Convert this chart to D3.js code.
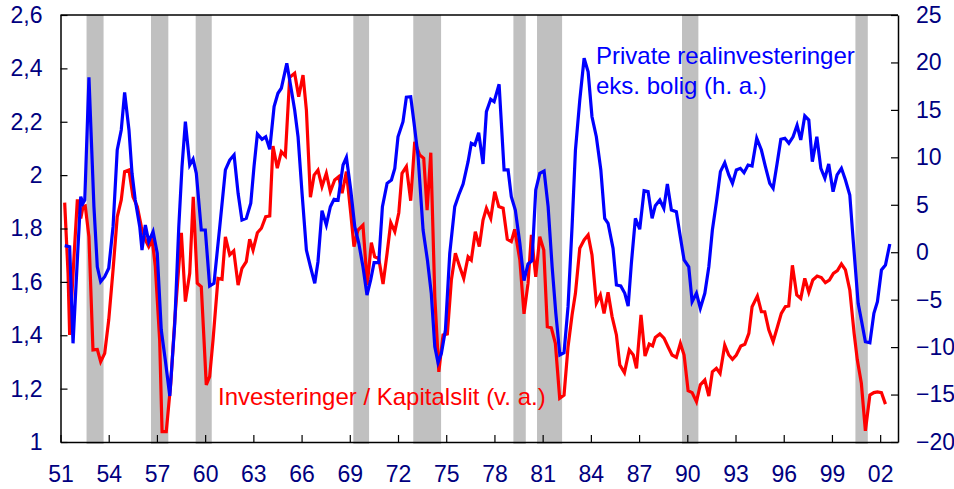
<!DOCTYPE html>
<html>
<head>
<meta charset="utf-8">
<script src="https://cdn.jsdelivr.net/npm/d3@7"></script>
<style>
  body { margin: 0; background: #fff; }
  text { font-family: "Liberation Sans", Arial, sans-serif; }
</style>
</head>
<body>
<div id="chart"></div>
<script>
// grey bands (recessions), in chart years
var bandStart = [1952.62, 1956.63, 1959.41, 1969.22, 1972.95, 1979.18, 1980.65, 1989.67, 2000.46];
var bandEnd   = [1953.68, 1957.71, 1960.41, 1970.20, 1974.68, 1979.95, 1982.21, 1990.69, 2001.23];

// Investeringer / Kapitalslit (left axis)
var redYears = [1951.26,1951.47,1951.57,1951.84,1952.05,1952.26,1952.40,1952.54,1952.77,1953.02,1953.29,1953.50,1953.75,1954.00,1954.27,1954.53,1954.78,1954.99,1955.26,1955.51,1955.78,1956.03,1956.28,1956.49,1956.71,1956.90,1957.17,1957.32,1957.58,1957.86,1958.11,1958.36,1958.52,1958.77,1959.04,1959.26,1959.51,1959.76,1959.93,1960.07,1960.28,1960.49,1960.80,1961.05,1961.26,1961.53,1961.78,1962.05,1962.29,1962.56,1962.77,1962.98,1963.25,1963.50,1963.77,1964.02,1964.22,1964.49,1964.74,1964.99,1965.26,1965.57,1965.82,1966.09,1966.30,1966.55,1966.78,1967.02,1967.27,1967.54,1967.79,1968.06,1968.31,1968.52,1968.79,1969.06,1969.26,1969.51,1969.82,1970.09,1970.34,1970.55,1970.80,1971.07,1971.32,1971.55,1971.80,1972.05,1972.25,1972.52,1972.79,1973.04,1973.35,1973.60,1973.81,1974.04,1974.29,1974.54,1974.80,1975.07,1975.32,1975.57,1975.84,1976.09,1976.36,1976.56,1976.81,1977.06,1977.29,1977.50,1977.77,1978.02,1978.27,1978.54,1978.80,1979.05,1979.26,1979.58,1979.84,1980.09,1980.30,1980.57,1980.82,1981.07,1981.29,1981.54,1981.79,1982.06,1982.33,1982.58,1982.83,1983.04,1983.31,1983.58,1983.83,1984.07,1984.34,1984.59,1984.82,1985.07,1985.32,1985.59,1985.80,1986.09,1986.39,1986.64,1986.84,1987.12,1987.37,1987.63,1987.84,1988.01,1988.29,1988.55,1988.80,1989.05,1989.32,1989.57,1989.80,1990.05,1990.30,1990.57,1990.81,1991.09,1991.34,1991.56,1991.81,1992.04,1992.33,1992.58,1992.81,1993.05,1993.33,1993.58,1993.83,1994.03,1994.36,1994.61,1994.82,1995.07,1995.34,1995.61,1995.85,1996.10,1996.31,1996.54,1996.81,1997.06,1997.31,1997.56,1997.81,1998.08,1998.34,1998.59,1998.84,1999.09,1999.34,1999.59,1999.84,2000.11,2000.38,2000.58,2000.83,2001.08,2001.36,2001.61,2001.83,2002.08,2002.33];
var redValues = [1.897,1.632,1.401,1.694,1.909,1.838,1.882,1.885,1.769,1.345,1.347,1.301,1.332,1.457,1.645,1.844,1.907,2.013,2.019,1.919,1.882,1.807,1.757,1.732,1.757,1.657,1.382,1.039,1.039,1.220,1.457,1.657,1.784,1.526,1.632,1.919,1.595,1.582,1.382,1.214,1.245,1.382,1.613,1.610,1.769,1.701,1.716,1.588,1.651,1.676,1.760,1.719,1.784,1.801,1.844,1.847,2.109,2.026,2.088,2.072,2.367,2.382,2.294,2.375,2.244,1.917,2.000,2.019,1.957,2.007,1.938,1.982,1.994,1.932,2.013,1.857,1.732,1.794,1.813,1.588,1.747,1.694,1.688,1.592,1.707,1.822,1.788,1.859,2.007,2.032,1.904,2.125,2.075,2.063,1.869,2.084,1.544,1.263,1.401,1.405,1.607,1.707,1.657,1.613,1.694,1.682,1.788,1.732,1.832,1.876,1.838,1.938,1.882,1.876,1.760,1.751,1.797,1.682,1.480,1.595,1.776,1.619,1.769,1.719,1.432,1.428,1.370,1.164,1.176,1.357,1.476,1.557,1.726,1.757,1.776,1.701,1.520,1.551,1.482,1.561,1.470,1.401,1.289,1.260,1.345,1.326,1.276,1.476,1.322,1.367,1.360,1.392,1.405,1.389,1.357,1.326,1.317,1.370,1.326,1.192,1.185,1.151,1.214,1.232,1.172,1.263,1.276,1.257,1.363,1.326,1.310,1.326,1.360,1.366,1.407,1.507,1.547,1.488,1.488,1.420,1.376,1.432,1.482,1.507,1.510,1.662,1.551,1.538,1.613,1.561,1.607,1.622,1.616,1.597,1.607,1.632,1.642,1.667,1.645,1.570,1.407,1.307,1.220,1.042,1.176,1.185,1.188,1.185,1.142];

// Private realinvesteringer eks. bolig (right axis)
var blueYears = [1951.26,1951.57,1951.78,1952.09,1952.26,1952.40,1952.51,1952.77,1952.92,1953.08,1953.29,1953.50,1953.75,1954.00,1954.27,1954.53,1954.78,1954.99,1955.26,1955.45,1955.65,1955.93,1956.07,1956.28,1956.49,1956.76,1957.02,1957.27,1957.52,1957.80,1958.11,1958.36,1958.56,1958.77,1959.04,1959.25,1959.45,1959.76,1960.01,1960.28,1960.55,1960.91,1961.26,1961.53,1961.80,1962.05,1962.29,1962.56,1962.84,1963.04,1963.25,1963.54,1963.77,1964.02,1964.29,1964.53,1964.74,1965.08,1965.33,1965.57,1965.78,1966.03,1966.30,1966.55,1966.82,1967.02,1967.27,1967.54,1967.79,1968.02,1968.27,1968.58,1968.79,1969.06,1969.31,1969.56,1969.82,1970.07,1970.30,1970.51,1970.80,1971.03,1971.32,1971.59,1971.80,1972.00,1972.31,1972.52,1972.79,1973.00,1973.25,1973.56,1973.83,1974.07,1974.29,1974.49,1974.70,1974.95,1975.22,1975.53,1975.78,1976.05,1976.36,1976.56,1976.78,1977.02,1977.29,1977.50,1977.77,1977.98,1978.29,1978.60,1978.85,1979.05,1979.30,1979.58,1979.84,1980.09,1980.34,1980.57,1980.82,1981.09,1981.34,1981.59,1981.82,1982.07,1982.33,1982.58,1982.83,1983.04,1983.31,1983.58,1983.83,1984.07,1984.34,1984.62,1984.86,1985.07,1985.38,1985.59,1985.86,1986.11,1986.32,1986.52,1986.77,1987.04,1987.31,1987.56,1987.81,1988.01,1988.29,1988.54,1988.76,1989.01,1989.32,1989.53,1989.80,1990.09,1990.30,1990.57,1990.81,1991.09,1991.34,1991.56,1991.83,1992.06,1992.33,1992.58,1992.81,1993.05,1993.30,1993.53,1993.78,1994.03,1994.32,1994.61,1994.86,1995.13,1995.34,1995.59,1995.82,1996.07,1996.32,1996.58,1996.83,1997.06,1997.31,1997.56,1997.78,1998.06,1998.31,1998.56,1998.80,1999.07,1999.32,1999.59,1999.84,2000.11,2000.32,2000.63,2000.83,2001.08,2001.36,2001.61,2001.83,2002.08,2002.33,2002.60];
var blueValues = [0.69,0.58,-9.60,0.58,5.85,5.16,5.50,18.43,11.83,4.80,-1.53,-3.11,-2.58,-1.69,2.69,10.77,12.88,16.85,12.88,8.32,5.50,2.69,0.23,2.87,1.11,2.16,-0.11,-8.20,-11.36,-15.15,-7.49,2.69,9.01,13.76,9.19,9.82,8.32,2.34,2.34,-3.56,-3.28,2.69,8.67,9.72,10.25,6.21,3.40,3.57,5.16,9.01,12.46,11.90,12.17,10.85,15.34,16.75,17.28,19.91,17.44,14.99,12.17,6.21,0.23,-1.53,-3.28,-1.00,4.38,2.87,4.80,5.58,5.50,9.19,10.00,6.56,2.69,0.94,-1.53,-4.51,-2.93,-1.10,-1.10,4.80,7.26,7.61,8.84,12.17,13.76,16.33,16.39,13.59,10.07,2.34,-0.82,-4.33,-9.96,-11.64,-10.65,-8.20,-0.11,4.80,6.03,7.19,9.54,11.48,11.30,12.60,9.30,14.81,16.12,15.86,17.70,8.67,8.67,5.85,4.45,0.94,-3.00,-1.24,-0.89,6.56,8.32,8.56,4.80,-1.53,-6.44,-10.83,-10.59,-5.74,2.69,10.77,16.04,20.44,19.02,14.28,12.17,8.67,3.57,3.05,0.41,-3.45,-3.56,-4.33,-5.67,-1.17,3.57,2.42,6.48,6.38,3.57,4.90,5.50,4.63,7.19,4.45,4.27,1.99,-0.82,-1.53,-5.21,-4.33,-5.91,-4.33,-1.53,2.34,5.50,8.49,9.43,8.14,7.26,8.67,8.84,8.38,9.19,9.09,12.01,10.77,9.01,7.26,6.74,9.37,11.90,12.01,11.48,12.17,13.38,11.83,14.36,13.93,9.54,12.17,8.84,7.79,9.30,6.38,8.14,8.84,7.61,6.03,1.29,-5.38,-7.14,-9.43,-9.54,-6.44,-5.21,-1.87,-1.35,0.87];

var leftTicks  = [1, 1.2, 1.4, 1.6, 1.8, 2, 2.2, 2.4, 2.6];
var rightTicks = [-20, -15, -10, -5, 0, 5, 10, 15, 20, 25];
var yearTicks  = [1951, 1954, 1957, 1960, 1963, 1966, 1969, 1972, 1975, 1978, 1981, 1984, 1987, 1990, 1993, 1996, 1999, 2002];

var margin = {top: 15, right: 56, bottom: 47, left: 60.5},
    width = 954 - margin.left - margin.right,
    height = 489 - margin.top - margin.bottom;

var navy = "#000080";

var x = d3.scaleLinear().domain([1951, 2003.11]).range([0, width]);
var yLeft = d3.scaleLinear().domain([1, 2.6]).range([height, 0]);
var yRight = d3.scaleLinear().domain([-20, 25]).range([height, 0]);

var svg = d3.select("#chart").append("svg")
    .attr("width", 954)
    .attr("height", 489)
  .append("g")
    .attr("transform", "translate(" + margin.left + "," + margin.top + ")");

svg.selectAll("rect.band")
    .data(d3.zip(bandStart, bandEnd))
  .enter().append("rect")
    .attr("class", "band")
    .attr("x", function(d) { return x(d[0]); })
    .attr("y", 0)
    .attr("width", function(d) { return x(d[1]) - x(d[0]); })
    .attr("height", height + 2)
    .attr("fill", "#c0c0c0");

var redLine = d3.line()
    .x(function(d) { return x(d[0]); })
    .y(function(d) { return yLeft(d[1]); });

var blueLine = d3.line()
    .x(function(d) { return x(d[0]); })
    .y(function(d) { return yRight(d[1]); });

svg.append("path")
    .datum(d3.zip(redYears, redValues))
    .attr("d", redLine)
    .attr("fill", "none")
    .attr("stroke", "#ff0000")
    .attr("stroke-width", 3.2);

svg.append("path")
    .datum(d3.zip(blueYears, blueValues))
    .attr("d", blueLine)
    .attr("fill", "none")
    .attr("stroke", "#0000ff")
    .attr("stroke-width", 3.2);

// frame top
svg.append("line")
    .attr("x1", 0).attr("x2", width)
    .attr("y1", 0).attr("y2", 0)
    .attr("stroke", "#000").attr("stroke-width", 1.5);

var xAxis = svg.append("g")
    .attr("transform", "translate(0," + height + ")")
    .call(d3.axisBottom(x)
      .tickValues(yearTicks)
      .tickSizeInner(-7)
      .tickSizeOuter(0)
      .tickPadding(24)
      .tickFormat(function(d) { return String(d % 100).padStart(2, "0"); }));

var leftAxis = svg.append("g")
    .call(d3.axisLeft(yLeft)
      .tickValues(leftTicks)
      .tickSizeInner(-7)
      .tickSizeOuter(0)
      .tickPadding(18)
      .tickFormat(function(d) { return String(Math.round(d * 10) / 10).replace(".", ","); }));

var rightAxis = svg.append("g")
    .attr("transform", "translate(" + width + ",0)")
    .call(d3.axisRight(yRight)
      .tickValues(rightTicks)
      .tickSizeInner(-7)
      .tickSizeOuter(0)
      .tickPadding(18));

[xAxis, leftAxis, rightAxis].forEach(function(a) {
  a.select(".domain").attr("stroke", "#000").attr("stroke-width", 1.5);
  a.selectAll(".tick line").attr("stroke", "#000").attr("stroke-width", 1.2);
  a.selectAll(".tick text")
    .attr("fill", navy)
    .style("font-size", "23px")
    .style("font-family", "'Liberation Sans', Arial, sans-serif");
});

svg.append("text")
    .attr("x", 157.5)
    .attr("y", 390)
    .attr("fill", "#ff0000")
    .style("font-size", "24px")
    .text("Investeringer / Kapitalslit (v. a.)");

var blueLabel = svg.append("text")
    .attr("fill", "#0000ff")
    .style("font-size", "24px");

blueLabel.append("tspan")
    .attr("x", 535.5).attr("y", 49)
    .text("Private realinvesteringer");

blueLabel.append("tspan")
    .attr("x", 535.5).attr("y", 79)
    .text("eks. bolig (h. a.)");
</script>
</body>
</html>
